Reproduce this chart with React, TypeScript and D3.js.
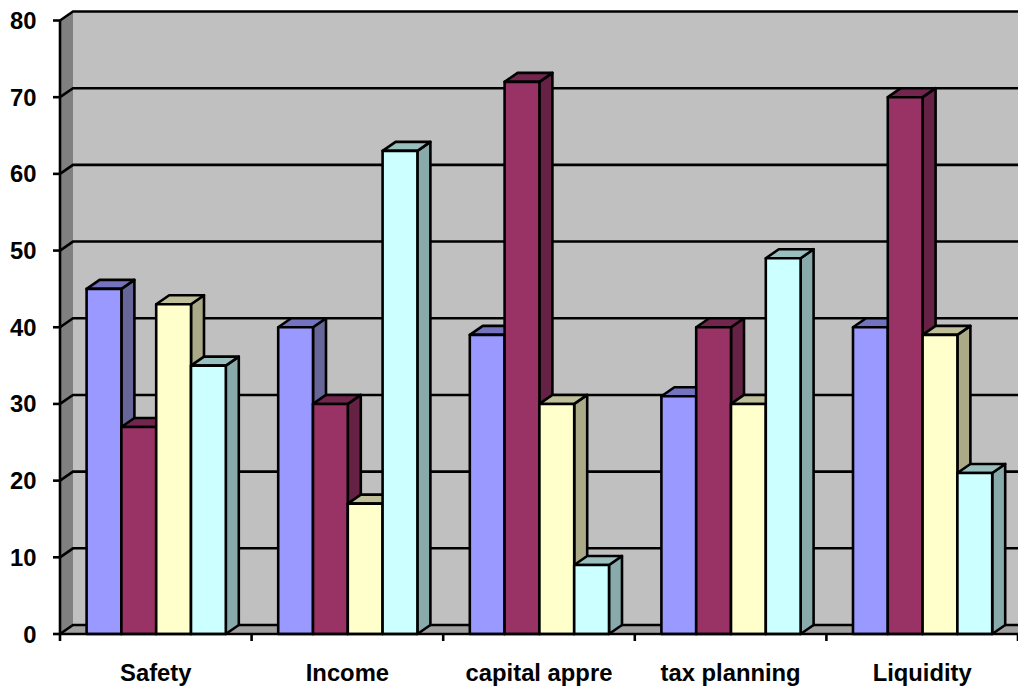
import React from "react";
import * as d3 from "d3";

const categories = ["Safety", "Income", "capital appre", "tax planning", "Liquidity"];
const seriesA = [45, 40, 39, 31, 40];
const seriesB = [27, 30, 72, 40, 70];
const seriesC = [43, 17, 30, 30, 39];
const seriesD = [35, 63, 9, 49, 21];
const yTicks = [0, 10, 20, 30, 40, 50, 60, 70, 80];

const seriesList = [
  { values: seriesA, front: "#9999ff", top: "#7373bf", side: "#666699" },
  { values: seriesB, front: "#993366", top: "#73264d", side: "#662244" },
  { values: seriesC, front: "#ffffcc", top: "#bfbf99", side: "#aaaa88" },
  { values: seriesD, front: "#ccffff", top: "#99bfbf", side: "#88aaaa" },
];

const WIDTH = 1018;
const HEIGHT = 686;
const DX = 13;
const DY = -9;
const STROKE = 2.6;
const FONT_SIZE = 23.8;

const y = d3.scaleLinear().domain([0, 80]).range([634, 20.5]);
const x = d3.scaleBand<string>().domain(categories).range([60, 1018]).paddingInner(0).paddingOuter(0);
const inner = d3.scaleBand<number>().domain([0, 1, 2, 3]).range([26.6, 165.8]);

const poly = (pts: [number, number][]) => d3.line()(pts) + "Z";

export default function App() {
  const x0 = x.range()[0];
  const x1 = x.range()[1];
  const floor = y(0);
  const ceil = y(80);
  const boundaries = categories.map((c) => x(c) as number).concat([x1]);

  return (
    <svg
      width={WIDTH}
      height={HEIGHT}
      style={{ position: "absolute", left: 0, top: 0, background: "#fff" }}
      fontFamily="'Liberation Sans', Arial, sans-serif"
      fontWeight="bold"
      fill="#000"
    >
      {/* back wall, side wall, floor */}
      <rect x={x0 + DX} y={ceil + DY} width={x1 - x0} height={floor - ceil} fill="#c0c0c0" />
      <path d={poly([[x0, ceil], [x0 + DX, ceil + DY], [x0 + DX, floor + DY], [x0, floor]])} fill="#808080" />
      <path d={poly([[x0, floor], [x0 + DX, floor + DY], [x1 + DX, floor + DY], [x1, floor]])} fill="#a0a0a0" />

      {/* gridlines wrap from the side wall onto the back wall */}
      {yTicks.map((t) => (
        <path
          key={t}
          d={d3.line()([[x0, y(t)], [x0 + DX, y(t) + DY], [x1 + DX, y(t) + DY]]) as string}
          fill="none"
          stroke="#000"
          strokeWidth={STROKE}
        />
      ))}

      {/* 3D columns, drawn left to right so nearer faces cover earlier sides */}
      {categories.map((c, ci) =>
        seriesList.map((s, si) => {
          const left = (x(c) as number) + (inner(si) as number);
          const w = inner.bandwidth();
          const right = left + w;
          const top = y(s.values[ci]);
          return (
            <g key={c + si} stroke="#000" strokeWidth={STROKE} strokeLinejoin="round">
              <path
                d={poly([[right, top], [right + DX, top + DY], [right + DX, floor + DY], [right, floor]])}
                fill={s.side}
              />
              <path
                d={poly([[left, top], [left + DX, top + DY], [right + DX, top + DY], [right, top]])}
                fill={s.top}
              />
              <rect x={left} y={top} width={w} height={floor - top} fill={s.front} />
            </g>
          );
        })
      )}

      {/* axes */}
      <line x1={x0} x2={x0} y1={ceil} y2={floor} stroke="#000" strokeWidth={STROKE} />
      <line x1={x0} x2={x1} y1={floor} y2={floor} stroke="#000" strokeWidth={STROKE} />
      {yTicks.map((t) => (
        <g key={t}>
          <line x1={x0 - 7} x2={x0} y1={y(t)} y2={y(t)} stroke="#000" strokeWidth={STROKE} />
          <text x={36.5} y={y(t) + 8.5} textAnchor="end" fontSize={FONT_SIZE}>
            {t}
          </text>
        </g>
      ))}
      {boundaries.map((b) => (
        <line key={b} x1={b} x2={b} y1={floor} y2={floor + 7} stroke="#000" strokeWidth={STROKE} />
      ))}
      {categories.map((c) => (
        <text key={c} x={(x(c) as number) + x.bandwidth() / 2} y={680.5} textAnchor="middle" fontSize={FONT_SIZE}>
          {c}
        </text>
      ))}
    </svg>
  );
}
